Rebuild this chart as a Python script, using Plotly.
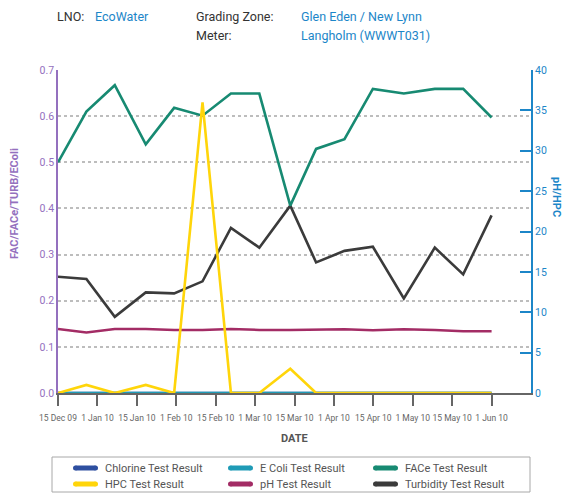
import pandas as pd
import plotly.graph_objects as go

# ---------------- data ----------------
sample_dates = ["2009-12-15", "2009-12-26", "2010-01-06", "2010-01-18", "2010-01-29",
                "2010-02-09", "2010-02-20", "2010-03-03", "2010-03-15", "2010-03-25",
                "2010-04-05", "2010-04-16", "2010-04-28", "2010-05-10", "2010-05-21",
                "2010-06-01"]

chlorine = [0, 0, 0, 0, 0, 0, 0, 0, 0, 0, 0, 0, 0, 0, 0, 0]
ecoli = [0, 0, 0, 0, 0, 0, 0, 0, 0, 0, 0, 0, 0, 0, 0, 0]
face = [0.50, 0.61, 0.667, 0.539, 0.618, 0.601, 0.649, 0.649, 0.406, 0.529,
        0.55, 0.659, 0.649, 0.659, 0.659, 0.597]
turbidity = [0.252, 0.247, 0.165, 0.218, 0.216, 0.242, 0.358, 0.315, 0.406, 0.283,
             0.308, 0.317, 0.205, 0.315, 0.257, 0.385]
hpc = [0, 1, 0, 1, 0, 36, 0, 0, 3, 0, 0, 0, 0, 0, 0, 0]
ph = [7.93, 7.49, 7.93, 7.93, 7.81, 7.81, 7.93, 7.81, 7.81, 7.81, 7.89, 7.77,
      7.89, 7.81, 7.65, 7.65]

tick_labels = ["15 Dec 09", "1 Jan 10", "15 Jan 10", "1 Feb 10", "15 Feb 10", "1 Mar 10",
               "15 Mar 10", "1 Apr 10", "15 Apr 10", "1 May 10", "15 May 10", "1 Jun 10"]
left_ticks = [0.0, 0.1, 0.2, 0.3, 0.4, 0.5, 0.6, 0.7]
right_ticks = [0, 5, 10, 15, 20, 25, 30, 35, 40]

legend_names = ["Chlorine Test Result", "E Coli Test Result", "FACe Test Result",
                "HPC Test Result", "pH Test Result", "Turbidity Test Result"]

# ---------------- styling ----------------
C_CHL = "#2E4FA0"
C_ECO = "#1F9BB6"
C_FACE = "#178A72"
C_HPC = "#FFD50A"
C_PH = "#A32C65"
C_TURB = "#3B3B3B"
legend_colors = [C_CHL, C_ECO, C_FACE, C_HPC, C_PH, C_TURB]
PURPLE = "#9470BE"
BLUE = "#1C86C8"
FONT = "Roboto, sans-serif"

# plot-area pixel geometry (for annotations / manual legend)
L, R, T, B = 58, 531, 70, 393
W_PLOT, H_PLOT = R - L, B - T

def px(x):
    return (x - L) / W_PLOT

def py(y):
    return (B - y) / H_PLOT

start = pd.Timestamp(sample_dates[0])
end = pd.Timestamp(sample_dates[-1])
step = (end - start) / (len(tick_labels) - 1)
tickvals = [start + step * k for k in range(len(tick_labels))]
x_end = start + step * len(tick_labels)

fig = go.Figure()

def add_line(y, color, axis="y"):
    fig.add_trace(go.Scatter(x=sample_dates, y=y, mode="lines", yaxis=axis,
                             line=dict(color=color, width=2.6), showlegend=False,
                             hoverinfo="skip"))

add_line(chlorine, C_CHL)
add_line(ecoli, C_ECO)
add_line(ph, C_PH, "y2")
add_line(turbidity, C_TURB)
add_line(face, C_FACE)
add_line(hpc, C_HPC, "y2")

fig.update_layout(
    width=564, height=493,
    margin=dict(l=L, r=564 - R, t=T, b=493 - B),
    paper_bgcolor="white", plot_bgcolor="white",
    showlegend=False,
    font=dict(family=FONT, size=11, color="#666"),
    xaxis=dict(type="date", range=[start, x_end], tickvals=tickvals, ticktext=tick_labels,
               automargin=False, tickangle=0, ticklabelstandoff=5,
               showgrid=False, zeroline=False, showline=True, linecolor="#666",
               linewidth=2, ticks="outside", ticklen=11, tickwidth=1.5, tickcolor="#666",
               tickfont=dict(family=FONT, size=8.5, color="#666")),
    yaxis=dict(range=[0, 0.7], tickvals=left_ticks, ticktext=[f"{v:.1f}" for v in left_ticks],
               automargin=False,
               showgrid=True, gridcolor="#BDBDBD", gridwidth=1.5, griddash="3px,3px",
               zeroline=False, showline=True, linecolor=PURPLE, linewidth=1.5,
               ticks="", tickfont=dict(family=FONT, size=10.5, color=PURPLE)),
    yaxis2=dict(range=[0, 40], overlaying="y", side="right", tickvals=right_ticks,
                automargin=False,
                showgrid=False, zeroline=False, showline=True, linecolor=BLUE, linewidth=2,
                ticks="inside", ticklen=11, tickwidth=2, tickcolor=BLUE,
                tickfont=dict(family=FONT, size=10.5, color=BLUE)),
)

# axis titles
def centered(text, x, y, color, angle=0):
    fig.add_annotation(text=text, xref="paper", yref="paper", x=px(x), y=py(y),
                       xanchor="center", yanchor="middle", textangle=angle, showarrow=False,
                       font=dict(family=FONT, size=11, color=color))

centered("<b>FAC/FACe/TURB/EColi</b>", 14, 204, PURPLE, -90)
centered("<b>pH/HPC</b>", 557, 197, BLUE, 90)
centered("<b>DATE</b>", 294, 438, "#555")

# header
def header(text, x, y, color="#333"):
    fig.add_annotation(text=text, xref="paper", yref="paper", x=px(x), y=py(y),
                       xanchor="left", yanchor="middle", showarrow=False,
                       font=dict(family=FONT, size=12.5, color=color))

header("LNO:", 55, 16)
header("EcoWater", 93, 16, BLUE)
header("Grading Zone:", 194, 16)
header("Meter:", 194, 36)
header("Glen Eden / New Lynn", 299, 16, BLUE)
header("Langholm (WWWT031)", 299, 36, BLUE)

# manual legend
fig.add_shape(type="rect", xref="paper", yref="paper", x0=px(52), x1=px(530),
              y0=py(457), y1=py(492), line=dict(color="#A8A8A8", width=1))
col_x = [73, 228, 373]
row_y = [468, 484]
for i, (name, col) in enumerate(zip(legend_names, legend_colors)):
    sx = col_x[i % 3]
    sy = row_y[i // 3]
    fig.add_shape(type="line", xref="paper", yref="paper", x0=px(sx + 2.5), x1=px(sx + 22.5),
                  y0=py(sy), y1=py(sy), line=dict(color=col, width=5))
    for cx in (sx + 2.5, sx + 22.5):
        fig.add_shape(type="circle", xref="paper", yref="paper",
                      x0=px(cx - 2.5), x1=px(cx + 2.5), y0=py(sy + 2.5), y1=py(sy - 2.5),
                      line=dict(width=0), fillcolor=col)
    fig.add_annotation(text=name, xref="paper", yref="paper", x=px(sx + 30), y=py(sy),
                       xanchor="left", yanchor="middle", showarrow=False,
                       font=dict(family=FONT, size=11, color="#555"))

fig.write_html("out.html", config={"displayModeBar": False},
               post_script="document.body.style.margin='0';document.body.style.overflow='hidden';")
